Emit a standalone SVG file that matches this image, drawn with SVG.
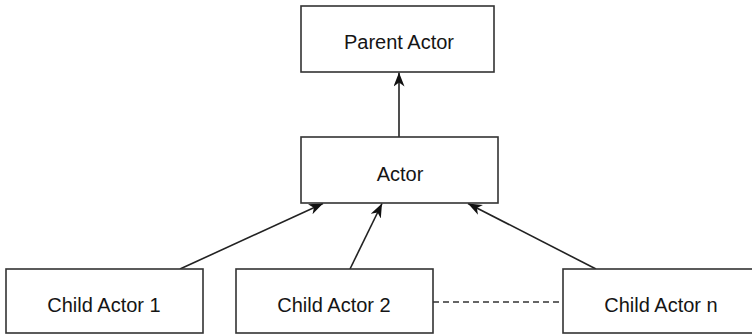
<svg xmlns="http://www.w3.org/2000/svg" width="752" height="336" viewBox="0 0 752 336">
<style>
.box{fill:#fff;stroke:#333;stroke-width:1.6}
.lbl{font-family:"Liberation Sans",Arial,sans-serif;font-size:20px;fill:#151515;text-anchor:middle}
.edge{stroke:#222;stroke-width:1.6;fill:none}
.dash{stroke:#333;stroke-width:1.5;stroke-dasharray:6,4;fill:none}
</style>
<defs>
<marker id="ah" markerWidth="16" markerHeight="12" refX="14" refY="5.5" orient="auto" markerUnits="userSpaceOnUse">
<path d="M0,0 L14,5.5 L0,11 L4,5.5 z" fill="#111"/>
</marker>
</defs>
<rect width="752" height="336" fill="#fff"/>
<g id="connectors">
<line class="edge" x1="399" y1="137" x2="399" y2="72.5" marker-end="url(#ah)"/>
<line class="edge" x1="180" y1="269" x2="323" y2="203.5" marker-end="url(#ah)"/>
<line class="edge" x1="350" y1="269" x2="382" y2="203.5" marker-end="url(#ah)"/>
<line class="edge" x1="596" y1="269" x2="468" y2="203.5" marker-end="url(#ah)"/>
<line class="dash" x1="433" y1="302" x2="563" y2="302"/>
</g>
<g id="parent">
<rect class="box" x="301" y="6" width="193" height="66"/>
<text class="lbl" x="399" y="49">Parent Actor</text>
</g>
<g id="actor">
<rect class="box" x="301" y="137" width="197" height="66"/>
<text class="lbl" x="400" y="181">Actor</text>
</g>
<g id="child1">
<rect class="box" x="6" y="269" width="197" height="64"/>
<text class="lbl" x="104" y="312">Child Actor 1</text>
</g>
<g id="child2">
<rect class="box" x="236" y="269" width="197" height="64"/>
<text class="lbl" x="334" y="312">Child Actor 2</text>
</g>
<g id="childn">
<rect class="box" x="563" y="269" width="197" height="64"/>
<text class="lbl" x="661" y="312">Child Actor n</text>
</g>
</svg>
